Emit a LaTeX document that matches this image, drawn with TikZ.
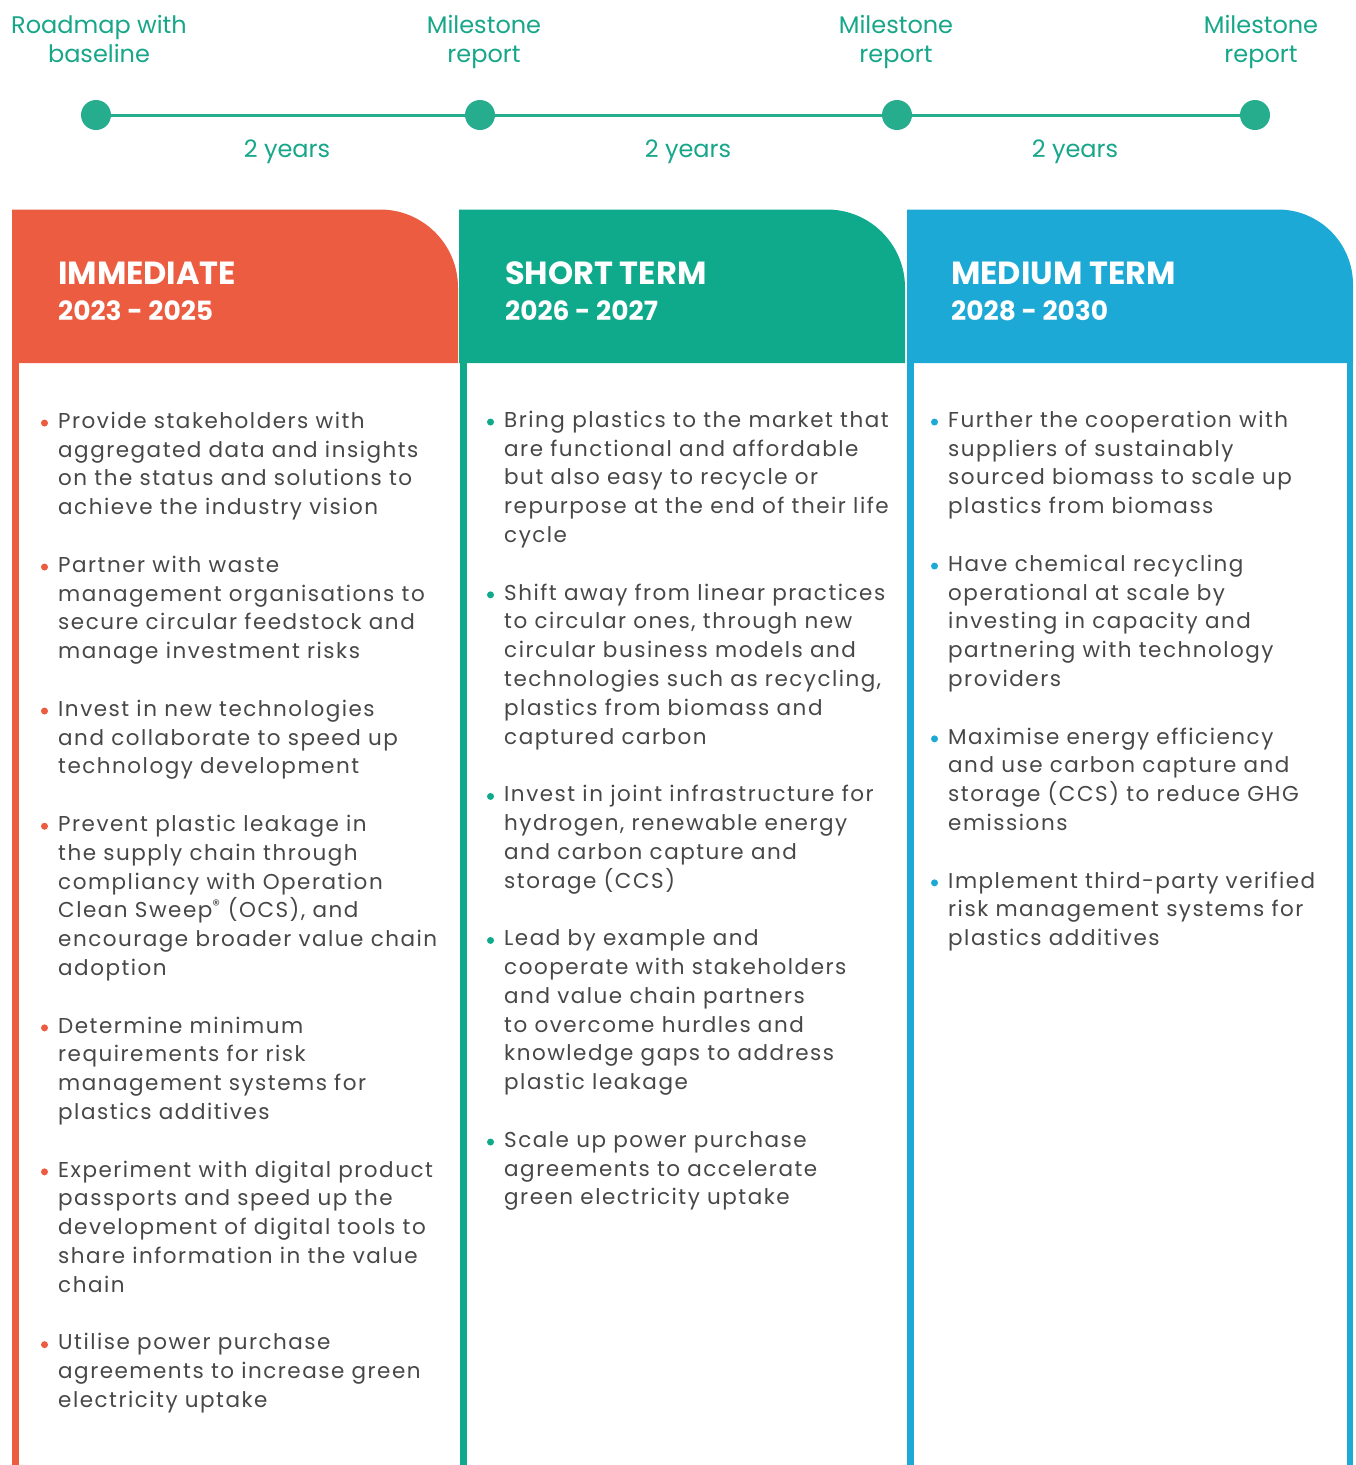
\documentclass[tikz,border=0pt]{standalone}
\usepackage{fontspec}
\setmainfont{Poppins}
\newfontfamily\bodyfont[LetterSpace=7]{Poppins}
\usetikzlibrary{positioning}
\definecolor{immediate}{HTML}{EC5C40}
\definecolor{shortterm}{HTML}{0FAA8B}
\definecolor{mediumterm}{HTML}{1DA9D6}
\definecolor{milestone}{HTML}{26AD8E}
\definecolor{milestonetext}{HTML}{17A689}
\definecolor{bodytext}{HTML}{474747}

\begin{document}
\begin{tikzpicture}[x=1pt,y=1pt,
  every node/.style={inner sep=0pt},
  dot/.style={circle,fill=milestone,minimum size=30pt},
  stagelabel/.style={anchor=north,align=center,text=milestonetext,font=\fontsize{24}{29}\selectfont},
  span/.style={anchor=base,text=milestonetext,font=\fontsize{24}{29}\selectfont},
  heading/.style={anchor=base west,text=white,font=\fontsize{32}{36}\selectfont\bfseries},
  period/.style={anchor=base west,text=white,font=\fontsize{26.5}{36}\selectfont\bfseries},
  entry/.style={anchor=north west,align=left,text=bodytext,font=\bodyfont\fontsize{21.5}{28.8}\selectfont}]
\useasboundingbox (0,0) rectangle (1356,-1465);
% timeline
\node [dot] (d1) at (96,-115) {};
\node [dot] (d2) at (480,-115) {};
\node [dot] (d3) at (897,-115) {};
\node [dot] (d4) at (1255,-115) {};
\draw [milestone,line width=3pt] (d1) -- (d2) -- (d3) -- (d4);
\node [stagelabel] (l1) at (99,-12.7) {\strut Roadmap with\\baseline};
\node [stagelabel] (l2) at (484,-12.7) {\strut Milestone\\report};
\node [stagelabel] (l3) at (896,-12.7) {\strut Milestone\\report};
\node [stagelabel] (l4) at (1261,-12.7) {\strut Milestone\\report};
\node [span] (y1) at (287,-157) {2 years};
\node [span] (y2) at (688,-157) {2 years};
\node [span] (y3) at (1075,-157) {2 years};
% column headers
\fill [immediate] (12,-363) -- (12,-209.5) -- (380,-209.5) arc [start angle=90,end angle=0,radius=78] -- (458,-363) -- cycle;
\fill [shortterm] (459,-363) -- (459,-209.5) -- (827,-209.5) arc [start angle=90,end angle=0,radius=78] -- (905,-363) -- cycle;
\fill [mediumterm] (907,-363) -- (907,-209.5) -- (1278,-209.5) arc [start angle=90,end angle=0,radius=75] -- (1353,-363) -- cycle;
% column rules
\fill [immediate] (12,-363) rectangle (18.5,-1465);
\fill [shortterm] (460,-363) rectangle (466.5,-1465);
\fill [mediumterm] (907,-363) rectangle (913.5,-1465);
\fill [mediumterm] (1347,-363) rectangle (1353,-1465);
\node [heading] (h1) at (58,-284) {IMMEDIATE};
\node [period] (p1) at (58,-320) {2023 - 2025};
\node [heading] (h2) at (505,-284) {SHORT TERM};
\node [period] (p2) at (505,-320) {2026 - 2027};
\node [heading] (h3) at (951,-284) {MEDIUM TERM};
\node [period] (p3) at (951,-320) {2028 - 2030};
% immediate
\node [entry] (i1) at (58,-407.84) {\strut Provide stakeholders with\\aggregated data and insights\\on the status and solutions to\\achieve the industry vision};
\node [entry] (i2) at (58,-551.84) {\strut Partner with waste\\management organisations to\\secure circular feedstock and\\manage investment risks};
\node [entry] (i3) at (58,-695.84) {\strut Invest in new technologies\\and collaborate to speed up\\technology development};
\node [entry] (i4) at (58,-811.04) {\strut Prevent plastic leakage in\\the supply chain through\\compliancy with Operation\\Clean Sweep\textsuperscript{®} (OCS), and\\encourage broader value chain\\adoption};
\node [entry] (i5) at (58,-1012.64) {\strut Determine minimum\\requirements for risk\\management systems for\\plastics additives};
\node [entry] (i6) at (58,-1156.64) {\strut Experiment with digital product\\passports and speed up the\\development of digital tools to\\share information in the value\\chain};
\node [entry] (i7) at (58,-1329.44) {\strut Utilise power purchase\\agreements to increase green\\electricity uptake};
% short term
\node [entry] (s1) at (504,-406.84) {\strut Bring plastics to the market that\\are functional and affordable\\but also easy to recycle or\\repurpose at the end of their life\\cycle};
\node [entry] (s2) at (504,-579.64) {\strut Shift away from linear practices\\to circular ones, through new\\circular business models and\\technologies such as recycling,\\plastics from biomass and\\captured carbon};
\node [entry] (s3) at (504,-781.24) {\strut Invest in joint infrastructure for\\hydrogen, renewable energy\\and carbon capture and\\storage (CCS)};
\node [entry] (s4) at (504,-925.24) {\strut Lead by example and\\cooperate with stakeholders\\and value chain partners\\to overcome hurdles and\\knowledge gaps to address\\plastic leakage};
\node [entry] (s5) at (504,-1126.84) {\strut Scale up power purchase\\agreements to accelerate\\green electricity uptake};
% medium term
\node [entry] (m1) at (948,-406.84) {\strut Further the cooperation with\\suppliers of sustainably\\sourced biomass to scale up\\plastics from biomass};
\node [entry] (m2) at (948,-550.84) {\strut Have chemical recycling\\operational at scale by\\investing in capacity and\\partnering with technology\\providers};
\node [entry] (m3) at (948,-723.64) {\strut Maximise energy efficiency\\and use carbon capture and\\storage (CCS) to reduce GHG\\emissions};
\node [entry] (m4) at (948,-867.64) {\strut Implement third-party verified\\risk management systems for\\plastics additives};
% bullets
\foreach \n in {i1,i2,i3,i4,i5,i6,i7}
  \fill [immediate] ([shift={(-13.5,-15.2)}]\n.north west) circle [radius=3.5];
\foreach \n in {s1,s2,s3,s4,s5}
  \fill [shortterm] ([shift={(-13.5,-15.2)}]\n.north west) circle [radius=3.5];
\foreach \n in {m1,m2,m3,m4}
  \fill [mediumterm] ([shift={(-13.5,-15.2)}]\n.north west) circle [radius=3.5];
\end{tikzpicture}
\end{document}
